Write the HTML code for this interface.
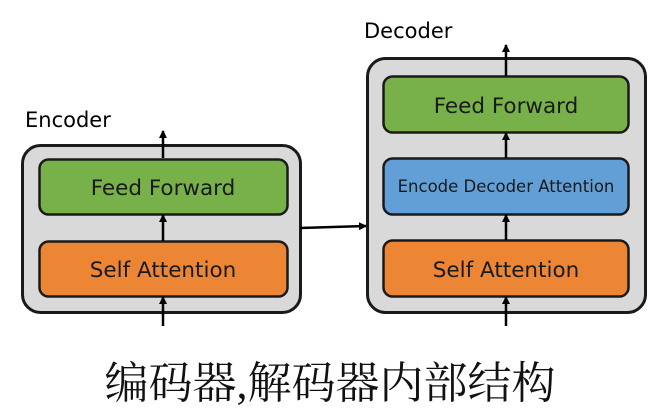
<!DOCTYPE html>
<html><head><meta charset="utf-8"><style>
body{margin:0;background:#fff;width:657px;height:419px;overflow:hidden;position:relative;font-family:"Liberation Sans","DejaVu Sans",sans-serif}
</style></head><body>
<svg width="657" height="419" viewBox="0 0 657 419" xmlns="http://www.w3.org/2000/svg" style="position:absolute;left:0;top:0">
<defs><marker id="a" markerWidth="8" markerHeight="8" refX="7" refY="4" orient="auto" markerUnits="userSpaceOnUse"><path d="M0,0 L8,4 L0,8 z" fill="#000"/></marker></defs>
<g font-family="'DejaVu Sans','Liberation Sans',sans-serif" fill="#000">
<text x="25" y="127" font-size="21">Encoder</text>
<text x="364" y="38" font-size="21">Decoder</text>
</g>
<rect x="22.5" y="145.5" width="278" height="167" rx="18" fill="#d9d9d9" stroke="#1a1a1a" stroke-width="3"/>
<rect x="39.5" y="159.5" width="248" height="55" rx="9" fill="#78b04a" stroke="#1a1a1a" stroke-width="2.5"/>
<rect x="39.5" y="241.5" width="248" height="55" rx="9" fill="#ed8634" stroke="#1a1a1a" stroke-width="2.5"/>
<rect x="367.5" y="58.5" width="278" height="254" rx="18" fill="#d9d9d9" stroke="#1a1a1a" stroke-width="3"/>
<rect x="383.5" y="76.5" width="245" height="56" rx="9" fill="#78b04a" stroke="#1a1a1a" stroke-width="2.5"/>
<rect x="383.5" y="158.5" width="245" height="56" rx="9" fill="#629fd6" stroke="#1a1a1a" stroke-width="2.5"/>
<rect x="383.5" y="240.5" width="245" height="56" rx="9" fill="#ed8634" stroke="#1a1a1a" stroke-width="2.5"/>
<g stroke="#000" stroke-width="2.5" marker-end="url(#a)">
<line x1="163" y1="158" x2="163" y2="131"/>
<line x1="163" y1="241" x2="163" y2="215"/>
<line x1="163" y1="326" x2="163" y2="297"/>
<line x1="506" y1="76" x2="506" y2="45"/>
<line x1="506" y1="158" x2="506" y2="133"/>
<line x1="506" y1="240" x2="506" y2="215"/>
<line x1="506" y1="326" x2="506" y2="297"/>
<line x1="300" y1="228" x2="366" y2="226"/>
</g>
<g font-family="'DejaVu Sans','Liberation Sans',sans-serif" text-anchor="middle" fill="#1a1a1a">
<text x="163" y="195" font-size="21.5">Feed Forward</text>
<text x="163" y="277" font-size="21.5">Self Attention</text>
<text x="506" y="113" font-size="21.5">Feed Forward</text>
<text x="506" y="192" font-size="16.5">Encode Decoder Attention</text>
<text x="506" y="277" font-size="21.5">Self Attention</text>
</g>
<text x="330" y="398" font-size="44" text-anchor="middle" font-family="'Liberation Serif','Noto Serif CJK SC',serif" fill="#111">编码器,解码器内部结构</text>
</svg>
</body></html>
